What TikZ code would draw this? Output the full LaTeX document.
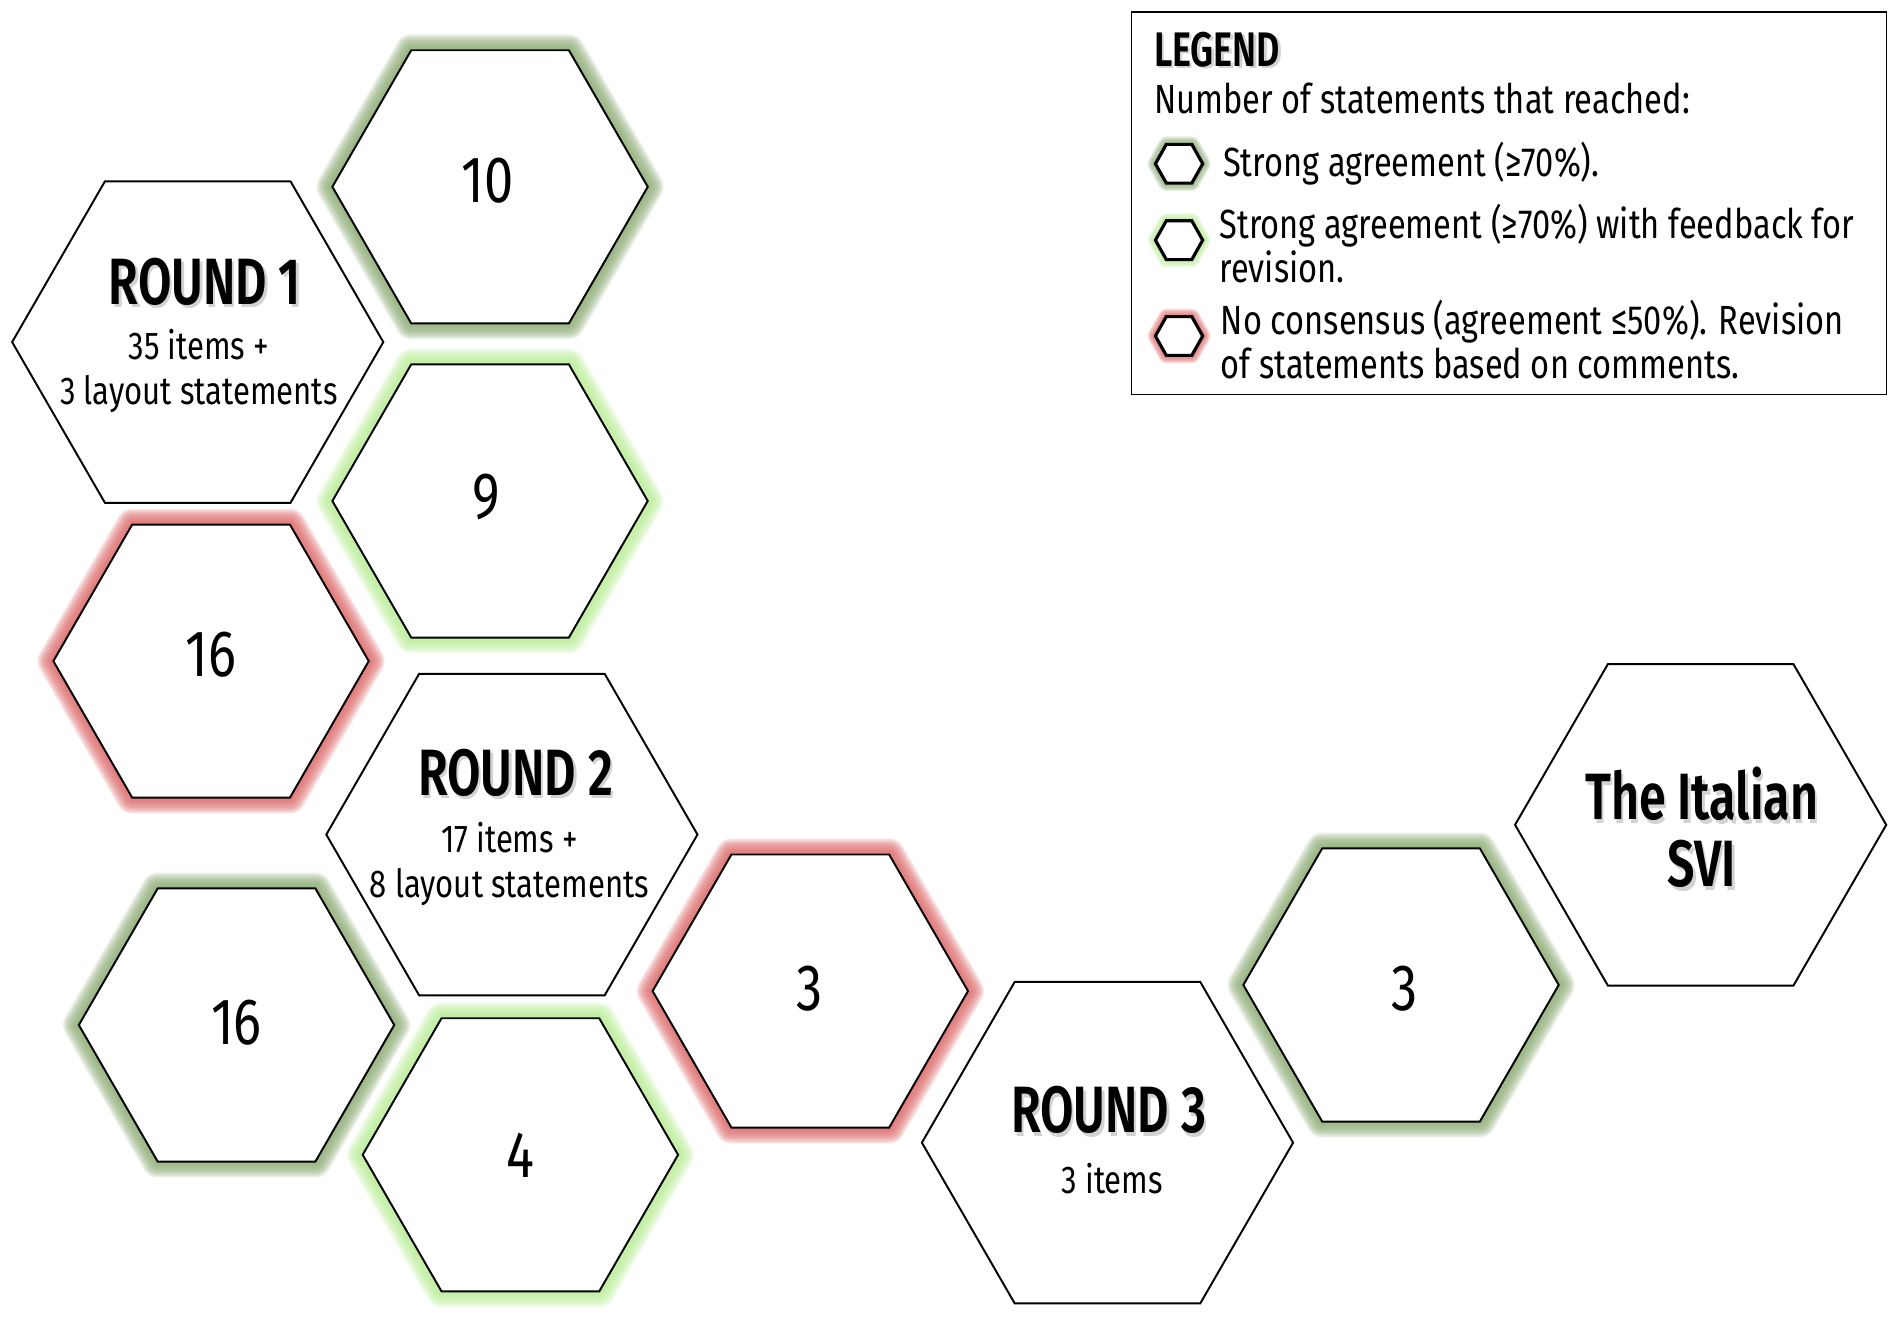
\documentclass[tikz,border=0pt]{standalone}
\usepackage{fontspec}
\setmainfont{Fira Sans}[FakeStretch=0.8, BoldFont={Fira Sans SemiBold}, BoldFeatures={FakeStretch=0.74}]
\usetikzlibrary{shapes.geometric}
\definecolor{gdark}{RGB}{140,172,115}
\definecolor{glight}{RGB}{185,238,150}
\definecolor{gred}{RGB}{222,104,104}
\tikzset{
  hexa/.style={regular polygon, regular polygon sides=6, draw=black, line width=0.8pt, fill=white, inner sep=0pt, minimum size=#1},
  gl/.style 2 args={preaction={draw=#1, line width=#2, opacity=0.2, line join=round}},
  glow/.style={gl={#1}{13pt}, gl={#1}{11.5pt}, gl={#1}{10pt}, gl={#1}{8.5pt},
               gl={#1}{7pt}, gl={#1}{5.5pt}, gl={#1}{4pt}, gl={#1}{2.5pt}},
  glowsm/.style={gl={#1}{6.5pt}, gl={#1}{5.6pt}, gl={#1}{4.7pt}, gl={#1}{3.8pt},
               gl={#1}{2.9pt}, gl={#1}{2pt}},
  iconline/.style={draw=black, line width=1.3pt, fill=white, line join=miter},
  num/.style={font=\fontsize{27}{30}\selectfont},
  titletxt/.style={font=\bfseries\fontsize{27}{30}\selectfont},
  sub/.style={font=\fontsize{16}{18.5}\selectfont, align=center},
  legtxt/.style={font=\fontsize{16.8}{18}\selectfont, align=left, anchor=west, inner sep=0pt},
  shadowtxt/.style={text=black!50, opacity=0.35},
}
\newcommand\iconhex[3]{%
  \path[iconline, glowsm=#3] (#1-19.5,#2) -- (#1-10.5,#2-16) -- (#1+10.5,#2-16) -- (#1+19.5,#2)
     -- (#1+10.5,#2+16) -- (#1-10.5,#2+16) -- cycle;}
\begin{document}
\begin{tikzpicture}[x=0.5pt, y=-0.5pt]
\useasboundingbox (0,0) rectangle (1568,1086);
\fill[white] (0,0) rectangle (1568,1086);

% coloured hexagons
\node[hexa=130pt, glow=gdark]  (h10)  at (404,154) {};
\node[hexa=130pt, glow=glight] (h9)   at (404,413) {};
\node[hexa=130pt, glow=gred]   (h16a) at (174,545) {};
\node[hexa=130pt, glow=gdark]  (h16b) at (195,845) {};
\node[hexa=130pt, glow=glight] (h4)   at (429,952) {};
\node[hexa=130pt, glow=gred]   (h3a)  at (668,817) {};
\node[hexa=130pt, glow=gdark]  (h3b)  at (1155,812) {};

% round hexagons
\node[hexa=153pt] (r1)  at (163,282) {};
\node[hexa=153pt] (r2)  at (422,688) {};
\node[hexa=153pt] (r3)  at (913,942) {};
\node[hexa=153pt] (svi) at (1402,680) {};

% numbers
\node[num] (t10)  at (402,149) {10};
\node[num] (t9)   at (401,410) {9};
\node[num] (t16a) at (174,540) {16};
\node[num] (t16b) at (195,843) {16};
\node[num] (t4)   at (429,952) {4};
\node[num] (t3a)  at (667,815) {3};
\node[num] (t3b)  at (1158,815) {3};

% titles with soft shadow
\node[titletxt, shadowtxt] (r1s) at (171,235) {ROUND 1};
\node[titletxt] (r1t) at (169,232) {ROUND 1};
\node[sub] (r1d) at (164,306) {35 items +\\3 layout statements};

\node[titletxt, shadowtxt] (r2s) at (427,640) {ROUND 2};
\node[titletxt] (r2t) at (425,637) {ROUND 2};
\node[sub] (r2d) at (420,712) {17 items +\\8 layout statements};

\node[titletxt, shadowtxt] (r3s) at (916,918) {ROUND 3};
\node[titletxt] (r3t) at (914,915) {ROUND 3};
\node[sub] (r3d) at (917,972) {3 items};

\node[titletxt, shadowtxt, align=center, font=\bfseries\fontsize{27}{27.5}\selectfont] (svis) at (1405,685) {The Italian\\SVI};
\node[titletxt, align=center, font=\bfseries\fontsize{27}{27.5}\selectfont] (svit) at (1403,682) {The Italian\\SVI};

% legend
\node[draw=black, line width=0.6pt, minimum width=311pt, minimum height=157.5pt, inner sep=0pt] (legend) at (1244,167.5) {};
\node[legtxt, shadowtxt, font=\bfseries\fontsize{20}{22}\selectfont] (legs) at (953,43) {LEGEND};
\node[legtxt, font=\bfseries\fontsize{20}{22}\selectfont] (legt) at (951,41) {LEGEND};
\node[legtxt] (legn) at (951,81) {Number of statements that reached:};

\iconhex{972}{135}{gdark}
\iconhex{972}{198}{glight}
\iconhex{972}{277}{gred}

\node[legtxt] (l1) at (1008,135) {Strong agreement (≥70\%).};
\node[legtxt] (l2) at (1005,201) {Strong agreement (≥70\%) with feedback for\\revision.};
\node[legtxt] (l3) at (1006,280) {No consensus (agreement ≤50\%). Revision\\of statements based on comments.};
\end{tikzpicture}
\end{document}
